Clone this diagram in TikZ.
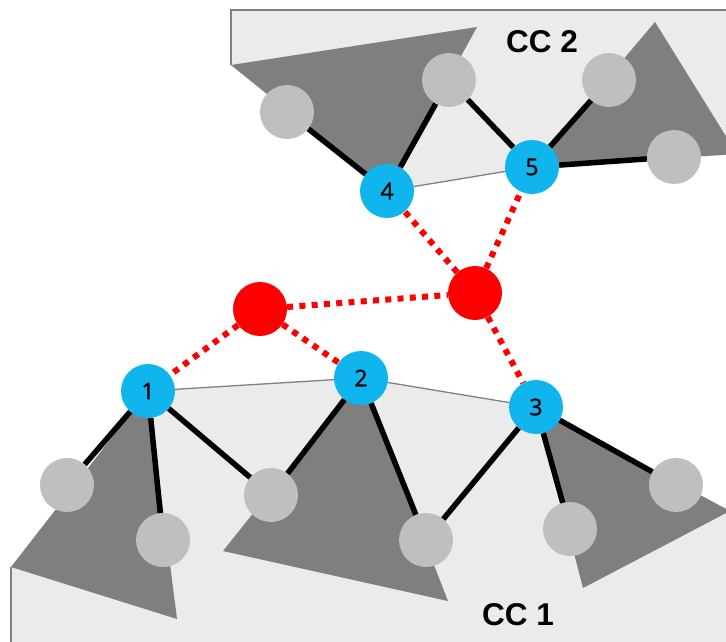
\documentclass[tikz,border=0pt]{standalone}
\usepackage{fontspec}
\setmainfont{Liberation Sans}
\newfontfamily\numfont[FakeBold=1.2]{Open Sans}
\definecolor{regionfill}{HTML}{EBEBEB}
\definecolor{regionline}{HTML}{808080}
\definecolor{darktri}{HTML}{7F7F7F}
\definecolor{lightball}{HTML}{BFBFBF}
\definecolor{blueball}{HTML}{10B5EE}
\definecolor{redball}{HTML}{FF0000}
\tikzset{
  region/.style={fill=regionfill, draw=none},
  regionborder/.style={draw=regionline, line width=1.3pt},
  darkshape/.style={fill=darktri, draw=none},
  bond/.style={draw=black, line width=5.5pt},
  link/.style={draw=redball, line width=6pt, dash pattern=on 6pt off 6.3pt},
  ball/.style={circle, minimum size=54pt, inner sep=0pt, draw=none},
  greyball/.style={ball, fill=lightball},
  blueball/.style={ball, fill=blueball, font=\numfont\fontsize{23}{23}\selectfont},
  rednode/.style={ball, fill=redball},
  cclabel/.style={font=\bfseries\fontsize{31.5}{31.5}\selectfont}
}
\begin{document}
\begin{tikzpicture}[x=1pt,y=-1pt]
\useasboundingbox (0,0) rectangle (726,642);
\clip (0,0) rectangle (726,642);
% coordinates of nodes
\coordinate (p1) at (148,391);
\coordinate (p2) at (361,378);
\coordinate (p3) at (536,407);
\coordinate (p4) at (387,191);
\coordinate (p5) at (532,167);
% regions
\fill[region] (231,10) -- (730,10) -- (730,155) -- (p5) -- (p4) -- (231,65) -- cycle;
\draw[regionborder] (730,10) -- (231,10) -- (231,65);
\draw[regionborder] (p4) -- (p5);
\fill[region] (11,567) -- (p1) -- (p2) -- (p3) -- (730,511) -- (730,650) -- (11,650) -- cycle;
\draw[regionborder] (11,650) -- (11,567);
\draw[regionborder] (p1) -- (p2) -- (p3);
% dark triangles
\fill[darkshape] (231,65) -- (477,27) -- (p4) -- cycle;
\fill[darkshape] (p5) -- (655,22) -- (737,154) -- cycle;
\fill[darkshape] (11,567) -- (p1) -- (177,619) -- cycle;
\fill[darkshape] (p2) -- (223,551) -- (448,601) -- cycle;
\fill[darkshape] (p3) -- (583,588) -- (730,511) -- cycle;
% labels
\node[cclabel] (cc2) at (542,42) {CC 2};
\node[cclabel] (cc1) at (518,615) {CC 1};
% balls
\node[blueball] (n1) at (p1) {1};
\node[blueball] (n2) at (p2) {2};
\node[blueball] (n3) at (p3) {3};
\node[blueball] (n4) at (p4) {4};
\node[blueball] (n5) at (p5) {5};
\node[rednode] (rl) at (260,309) {};
\node[rednode] (rr) at (475,293) {};
\node[greyball] (g4a) at (287,112) {};
\node[greyball] (g4b) at (449,80) {};
\node[greyball] (g5a) at (609,80) {};
\node[greyball] (g5b) at (674,157) {};
\node[greyball] (g1a) at (67,485) {};
\node[greyball] (g1b) at (163,540) {};
\node[greyball] (g12) at (271,495) {};
\node[greyball] (g23) at (426,540) {};
\node[greyball] (g3a) at (570,529) {};
\node[greyball] (g3b) at (676,485) {};
% bonds
\draw[bond] (n4) -- (g4a);
\draw[bond] (n4) -- (g4b);
\draw[bond] (n5) -- (g4b);
\draw[bond] (n5) -- (g5a);
\draw[bond] (n5) -- (g5b);
\draw[bond] (n1) -- (g1a);
\draw[bond] (n1) -- (g1b);
\draw[bond] (n1) -- (g12);
\draw[bond] (n2) -- (g12);
\draw[bond] (n2) -- (g23);
\draw[bond] (n3) -- (g23);
\draw[bond] (n3) -- (g3a);
\draw[bond] (n3) -- (g3b);
% red links
\draw[link] (rl) -- (n1);
\draw[link] (rl) -- (n2);
\draw[link] (rl) -- (rr);
\draw[link] (rr) -- (n4);
\draw[link] (rr) -- (n5);
\draw[link] (rr) -- (n3);
\end{tikzpicture}
\end{document}
